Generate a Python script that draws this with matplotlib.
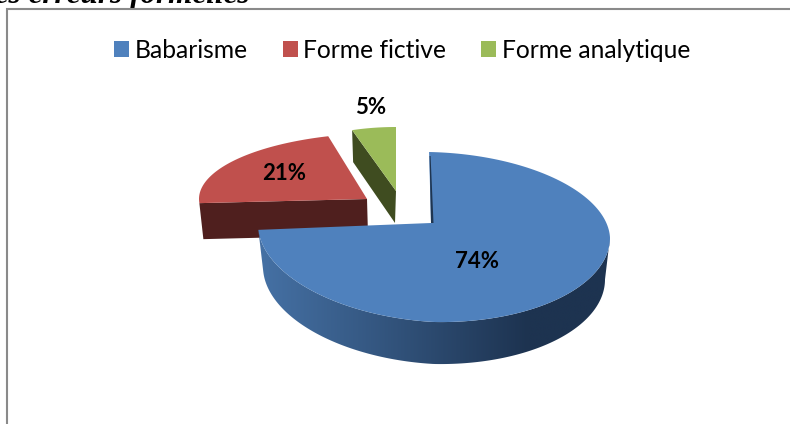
import numpy as np
import matplotlib
matplotlib.use('Agg')
import matplotlib.pyplot as plt
from matplotlib.patches import Patch, Polygon

categories = ['Babarisme', 'Forme fictive', 'Forme analytique']
shares = [74, 21, 5]
colors = ['#4f81bd', '#c0504d', '#9bbb59']
wall_colors = ['#1f3550', '#4f1f1e', '#3f4c20']

# pixel layout of each exploded slice: apex, ellipse centre, radii, wall depth
apexes = [(431, 223), (367, 199), (396, 191)]
centers = [(434, 234), (386, 199), (396, 191)]
radii_x = [176, 187, 142]
radii_up = [82, 66, 64]
radii_down = [88, 66, 64]
shear_left = [0.055, 0, 0]
shear_right = [0.02, 0, 0]
skew_up = [0.06, 0, 0]
wall_depth = [42, 36, 32]

plt.rcParams['font.family'] = ['Lato', 'DejaVu Sans']

fig = plt.figure(figsize=(7.9, 4.24), dpi=100)
ax = fig.add_axes([0, 0, 1, 1])


def rim(i, theta, drop=0, shrink=0):
    # theta is clockwise from 12 o'clock, in degrees
    t = np.radians(theta)
    c = np.cos(t)
    s = np.sin(t)
    b = np.where(c >= 0, radii_up[i], radii_down[i])
    dx = (radii_x[i] - shrink) * s
    # fake perspective: the far half leans left, the two sides tilt a bit
    x = centers[i][0] + dx - skew_up[i] * b * np.clip(c, 0, 1)
    tilt = np.where(dx < 0, shear_left[i], shear_right[i])
    y = centers[i][1] - b * c + tilt * dx + drop
    return x, y


ends = np.cumsum(shares) * 3.6
starts = np.concatenate([[0], ends[:-1]])

# red and green go first, the big blue slice sits on top of them
for i in [2, 1, 0]:
    arc = np.linspace(starts[i], ends[i], 200)
    x, y = rim(i, arc)
    ax_apex = apexes[i]
    d = wall_depth[i]

    if i == 0:
        # curved front wall with a left to right shade
        front = np.linspace(90, ends[0], 200)
        tx, ty = rim(0, front)
        bx, by = rim(0, front, drop=d, shrink=5)
        wall = Polygon(np.column_stack([np.r_[tx, bx[::-1]], np.r_[ty, by[::-1]]]),
                       closed=True, fc='none', ec='none', zorder=2)
        ax.add_patch(wall)
        shade = np.interp(np.linspace(0, 1, 256), [0.0, 0.35, 0.76, 1.0], [0, 0.45, 1, 1])
        left = np.array(matplotlib.colors.to_rgb('#4672a6'))
        right = np.array(matplotlib.colors.to_rgb('#1d3350'))
        img = left[None, None, :] * (1 - shade[None, :, None]) + right[None, None, :] * shade[None, :, None]
        im = ax.imshow(img, extent=[255, 615, 380, 200], aspect='auto', zorder=2)
        im.set_clip_path(wall)
        # thin inner wall along the first cut
        sx, sy = rim(0, 0)
        ax.add_patch(Polygon([(sx + 0.5, sy + 4), (sx + 1.5, sy + 4), (ax_apex[0] + 2.5, ax_apex[1]), ax_apex],
                             closed=True, fc=wall_colors[0], ec='none', zorder=4))
    elif i == 1:
        # straight cut facing the viewer
        ax.add_patch(Polygon([(x[0], y[0]), ax_apex, (ax_apex[0] + 1, ax_apex[1] + d),
                              (x[0] + 4, y[0] + d)],
                             closed=True, fc=wall_colors[i], ec='none', zorder=1))
    else:
        ax.add_patch(Polygon([(x[0], y[0]), (x[0] + 1, y[0] + d), (ax_apex[0] - 1, ax_apex[1] + d), ax_apex],
                             closed=True, fc=wall_colors[i], ec='none', zorder=1))

    top = np.column_stack([np.r_[ax_apex[0], x], np.r_[ax_apex[1], y]])
    ax.add_patch(Polygon(top, closed=True, fc=colors[i], ec='none', zorder=3))

label_pos = [(477, 261), (284, 173), (371, 107)]
for v, (lx, ly) in zip(shares, label_pos):
    ax.text(lx, ly, f'{v}%', ha='center', va='center', fontsize=16, fontweight='bold', color='black', zorder=5)

handles = [Patch(fc=c, ec='none') for c in colors]
ax.legend(handles, categories, loc='center left', bbox_to_anchor=(114 / 790, 1 - 50 / 424), ncol=3,
          frameon=False, fontsize=17.7, handlelength=0.62, handleheight=0.62, handletextpad=0.22,
          columnspacing=1.42, borderpad=0, borderaxespad=0)

# chart frame, open on the right and at the bottom of the crop
ax.plot([6.5, 6.5, 790], [424, 9, 9], color='#8a8a8a', lw=1.5, solid_joinstyle='miter', zorder=6)

# end of the caption above the chart, cut by the top edge
ax.text(-21, 3, 'des erreurs formelles', ha='left', va='baseline', fontsize=22.5, fontweight='bold', fontstyle='italic',
        family=['Liberation Serif'], color='black')

ax.set_xlim(0, 790)
ax.set_ylim(424, 0)
ax.axis('off')

fig.savefig('out.png', dpi=100)
